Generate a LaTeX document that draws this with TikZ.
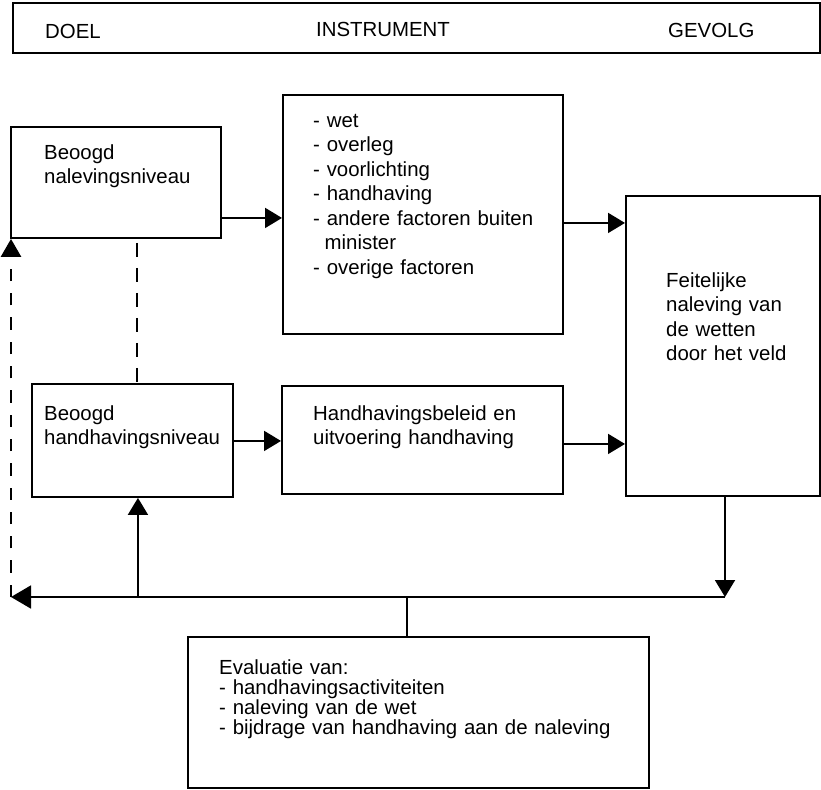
\documentclass[tikz,border=0pt]{standalone}
\usepackage{fontspec}
\setmainfont{Liberation Sans}
\usetikzlibrary{arrows.meta}
\begin{document}
\begin{tikzpicture}[x=1pt,y=-1pt,
  box/.style={draw, line width=1.9pt, rectangle, anchor=north west, inner sep=0pt, outer sep=0.95pt},
  txt/.style={anchor=base west, inner sep=0pt, align=left, text width=#1, font=\fontsize{20.4pt}{24.5pt}\selectfont},
  arr/.style={line width=1.9pt, -{Triangle[length=17pt,width=20pt]}},
  larr/.style={line width=1.9pt, -{Triangle[length=20pt,width=23pt]}},
  dasharr/.style={line width=2.6pt, dash pattern=on 12.3pt off 12pt, -{Triangle[length=18pt,width=20pt]}},
  middash/.style={line width=1.3pt, dash pattern=on 14pt off 11pt},
  thinline/.style={line width=1.4pt}
]
\useasboundingbox (0,0) rectangle (821,789);

% header
\node[box, minimum width=807pt, minimum height=50pt] (head) at (12,2) {};
\node[txt=80pt] (hdoel) at (45,38.5) {DOEL};
\node[txt=160pt] (hinstr) at (316,37) {INSTRUMENT};
\node[txt=100pt] (hgev) at (668,38) {GEVOLG};

% boxes
\node[box, minimum width=210pt, minimum height=111pt] (box1) at (10,126) {};
\node[txt=180pt] (t1) at (44,159) {Beoogd\\nalevingsniveau};

\node[box, minimum width=280pt, minimum height=239pt] (box2) at (282,94) {};
\node[txt=245pt] (t2) at (313,127.3) {- wet\\- overleg\\- voorlichting\\- handhaving\\- andere factoren buiten\\\hspace*{11.5pt}minister\\- overige factoren};

\node[box, minimum width=201pt, minimum height=113pt] (box3) at (31,383) {};
\node[txt=190pt] (t3) at (44,420) {Beoogd\\handhavingsniveau};

\node[box, minimum width=281pt, minimum height=108pt] (box4) at (281,385) {};
\node[txt=240pt] (t4) at (313,420) {Handhavingsbeleid en\\uitvoering handhaving};

\node[box, minimum width=194pt, minimum height=300pt] (box5) at (625,195) {};
\node[txt=150pt] (t5) at (666,287) {Feitelijke\\naleving van\\de wetten\\door het veld};

\node[box, minimum width=461pt, minimum height=151pt] (eval) at (187,636) {};
\node[txt=420pt, font=\fontsize{20.4pt}{20.2pt}\selectfont] (t6) at (219,674.2) {Evaluatie van:\\- handhavingsactiviteiten\\- naleving van de wet\\- bijdrage van handhaving aan de naleving};

% feedback coordinates
\coordinate (fb) at (725,597);
\coordinate (fl) at (11,597);

% connectors
\draw[arr] ([yshift=-35.5pt]box1.east) coordinate (a1) -- (a1 -| box2.west);
\draw[arr] ([yshift=-0.5pt]box3.east) coordinate (a2) -- (a2 -| box4.west);
\draw[arr] ([yshift=-8.5pt]box2.east) coordinate (a3) -- (a3 -| box5.west);
\draw[arr] ([yshift=-4pt]box4.east) coordinate (a4) -- (a4 -| box5.west);
\draw[arr] (box5.south -| fb) -- (fb);
\draw[larr] (fb) -- (fl);
\draw[arr] ([xshift=5.5pt]box3.south) coordinate (u) ++(0,0) (u |- fb) -- (u);
\draw[dasharr] (fl) -- (fl |- box1.south);
\draw[middash] ([xshift=21pt,yshift=-4pt]box1.south) coordinate (m1) -- (m1 |- box3.north);
\draw[thinline] ([xshift=-11.5pt]eval.north) coordinate (e1) -- (e1 |- fb);
\end{tikzpicture}
\end{document}
